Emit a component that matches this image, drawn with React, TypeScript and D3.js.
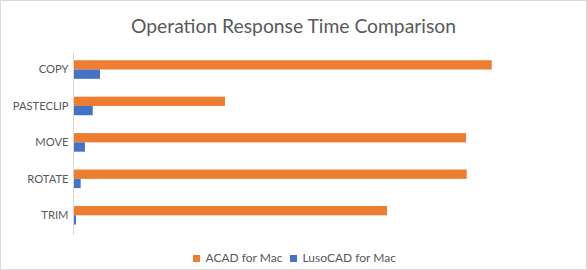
import { useEffect, useRef } from 'react';
import * as d3 from 'd3';

// chart data (units arbitrary, no value axis shown)
const categories = ['COPY', 'PASTECLIP', 'MOVE', 'ROTATE', 'TRIM'];
const acadValues = [33.27, 12.05, 31.22, 31.28, 24.94];
const lusoValues = [2.11, 1.53, 0.91, 0.57, 0.2];
const seriesNames = ['ACAD for Mac', 'LusoCAD for Mac'];
const seriesColors = ['#ED7D31', '#4472C4'];

const W = 587;
const H = 270;
const FONT = 'Lato, "Open Sans", sans-serif';

export default function App() {
    const ref = useRef<SVGSVGElement>(null);

    useEffect(() => {
        const svg = d3.select(ref.current);
        svg.selectAll('*').remove();

        // chart border
        svg.append('rect')
            .attr('x', 0.5).attr('y', 0.5)
            .attr('width', W - 1).attr('height', H - 1)
            .attr('fill', '#fff').attr('stroke', '#d9d9d9');

        svg.append('text')
            .attr('x', W / 2).attr('y', 33.3)
            .attr('text-anchor', 'middle')
            .attr('font-family', FONT).attr('font-size', 19.3)
            .attr('fill', '#595959')
            .text('Operation Response Time Comparison');

        const x = d3.scaleLinear().domain([0, 35]).range([73.5, 513.5]);
        const y = d3.scaleBand<string>()
            .domain(categories)
            .range([51.3, 233.5])
            .paddingInner(0.49)
            .paddingOuter(0.245);
        const inner = d3.scaleBand<number>()
            .domain([0, 1])
            .range([0, y.bandwidth()]);

        const rows = categories.map((c, i) => ({ c, vals: [acadValues[i], lusoValues[i]] }));

        const g = svg.append('g');
        rows.forEach(r => {
            r.vals.forEach((v, k) => {
                g.append('rect')
                    .attr('x', x(0))
                    .attr('y', (y(r.c) as number) + (inner(k) as number))
                    .attr('width', x(v) - x(0))
                    .attr('height', inner.bandwidth())
                    .attr('fill', seriesColors[k]);
            });
        });

        // category axis
        svg.append('line')
            .attr('x1', 73.5).attr('x2', 73.5)
            .attr('y1', 52.5).attr('y2', 235)
            .attr('stroke', '#d9d9d9');

        svg.append('g')
            .selectAll('text')
            .data(categories)
            .join('text')
            .attr('x', 68.5)
            .attr('y', d => (y(d) as number) + y.bandwidth() / 2)
            .attr('dy', '0.35em')
            .attr('text-anchor', 'end')
            .attr('font-family', FONT).attr('font-size', 11.2)
            .attr('fill', '#595959')
            .text(d => d);

        // legend
        const lg = svg.append('g');
        const items = [{ x: 193 }, { x: 290 }];
        seriesNames.forEach((n, i) => {
            lg.append('rect')
                .attr('x', items[i].x).attr('y', 255)
                .attr('width', 7).attr('height', 7)
                .attr('fill', seriesColors[i]);
            lg.append('text')
                .attr('x', items[i].x + 12.5).attr('y', 262)
                .attr('font-family', FONT).attr('font-size', 12)
                .attr('fill', '#595959')
                .text(n);
        });
    }, []);

    return (
        <svg ref={ref} width={W} height={H}
            style={{ position: 'absolute', left: 0, top: 0 }} />
    );
}
